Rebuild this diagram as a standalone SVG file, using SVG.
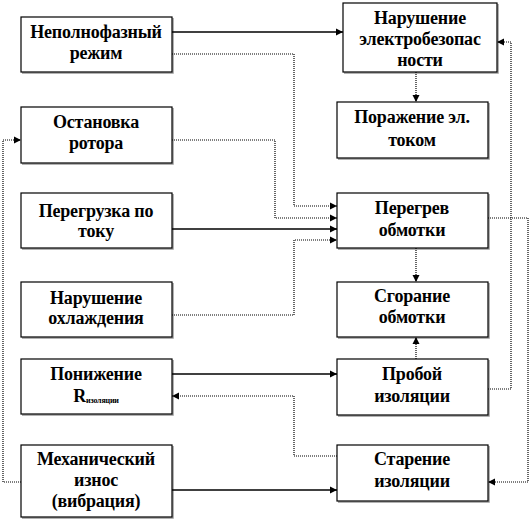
<svg xmlns="http://www.w3.org/2000/svg" width="531" height="519" viewBox="0 0 531 519">
<style>
.box{fill:#fff;stroke:#000;stroke-width:1.2}
.sh{fill:none;stroke:#999;stroke-width:1.5}
.t{font-family:'Liberation Serif','DejaVu Serif',serif;font-weight:bold;font-size:18px;text-anchor:middle;fill:#000;letter-spacing:-0.2px}
.s{fill:none;stroke:#000;stroke-width:1.3}
.d{fill:none;stroke:#000;stroke-width:1.2;stroke-dasharray:1 1}
</style>
<defs>
<marker id="a" markerWidth="8" markerHeight="8" refX="7" refY="4" orient="auto" markerUnits="userSpaceOnUse">
<path d="M0,0.5 L7,4 L0,7.5 Z" fill="#000"/>
</marker>
</defs>
<g id="n1"><path class="sh" d="M173,18 V73 H22"/><rect class="box" x="21" y="17" width="151" height="55"/><text class="t" x="96" y="38">Неполнофазный</text><text class="t" x="96" y="59">режим</text></g>
<g id="n2"><path class="sh" d="M173,108 V164 H22"/><rect class="box" x="21" y="107" width="151" height="56"/><text class="t" x="96" y="128">Остановка</text><text class="t" x="96" y="149">ротора</text></g>
<g id="n3"><path class="sh" d="M173,194 V249 H22"/><rect class="box" x="21" y="193" width="151" height="55"/><text class="t" x="96" y="217">Перегрузка по</text><text class="t" x="96" y="237">току</text></g>
<g id="n4"><path class="sh" d="M173,283 V338 H22"/><rect class="box" x="21" y="282" width="151" height="55"/><text class="t" x="96" y="304">Нарушение</text><text class="t" x="96" y="324">охлаждения</text></g>
<g id="n5"><path class="sh" d="M173,360 V415 H22"/><rect class="box" x="21" y="359" width="151" height="55"/><text class="t" x="96" y="380">Понижение</text><text class="t" x="96" y="402">R<tspan font-size="8" dy="1">изоляции</tspan></text></g>
<g id="n6"><path class="sh" d="M173,446 V518 H22"/><rect class="box" x="21" y="445" width="151" height="72"/><text class="t" x="96" y="465">Механический</text><text class="t" x="96" y="486">износ</text><text class="t" x="96" y="507">(вибрация)</text></g>
<g id="n7"><path class="sh" d="M498,4 V73 H344"/><rect class="box" x="343" y="3" width="154" height="69"/><text class="t" x="420" y="24">Нарушение</text><text class="t" x="420" y="45">электробезопас</text><text class="t" x="420" y="66">ности</text></g>
<g id="n8"><path class="sh" d="M489,103 V159 H338"/><rect class="box" x="337" y="102" width="151" height="56"/><text class="t" x="412" y="123">Поражение эл.</text><text class="t" x="412" y="146">током</text></g>
<g id="n9"><path class="sh" d="M489,194 V249 H338"/><rect class="box" x="337" y="193" width="151" height="55"/><text class="t" x="412" y="214">Перегрев</text><text class="t" x="412" y="236">обмотки</text></g>
<g id="n10"><path class="sh" d="M489,283 V338 H338"/><rect class="box" x="337" y="282" width="151" height="55"/><text class="t" x="412" y="302">Сгорание</text><text class="t" x="412" y="323">обмотки</text></g>
<g id="n11"><path class="sh" d="M489,360 V416 H338"/><rect class="box" x="337" y="359" width="151" height="56"/><text class="t" x="412" y="380">Пробой</text><text class="t" x="412" y="402">изоляции</text></g>
<g id="n12"><path class="sh" d="M489,446 V502 H338"/><rect class="box" x="337" y="445" width="151" height="56"/><text class="t" x="412" y="465">Старение</text><text class="t" x="412" y="487">изоляции</text></g>
<g id="connectors">
<path class="s" d="M172,32 H343" marker-end="url(#a)"/>
<path class="d" d="M172,54 H294 V206 H337" marker-end="url(#a)"/>
<path class="d" d="M172,140 H275 V218 H337" marker-end="url(#a)"/>
<path class="s" d="M172,229 H337" marker-end="url(#a)"/>
<path class="d" d="M172,315 H294 V240 H337" marker-end="url(#a)"/>
<path class="d" d="M416,72 V102" marker-end="url(#a)"/>
<path class="d" d="M416,248 V282" marker-end="url(#a)"/>
<path class="d" d="M416,359 V337" marker-end="url(#a)"/>
<path class="s" d="M172,374 H337" marker-end="url(#a)"/>
<path class="d" d="M337,456 H294 V396 H172" marker-end="url(#a)"/>
<path class="s" d="M172,490 H337" marker-end="url(#a)"/>
<path class="d" d="M21,482 H3 V140 H21" marker-end="url(#a)"/>
<path class="d" d="M488,389 H511 V42 H497" marker-end="url(#a)"/>
<path class="d" d="M488,218 H528 V482 H488" marker-end="url(#a)"/>
</g>
</svg>
